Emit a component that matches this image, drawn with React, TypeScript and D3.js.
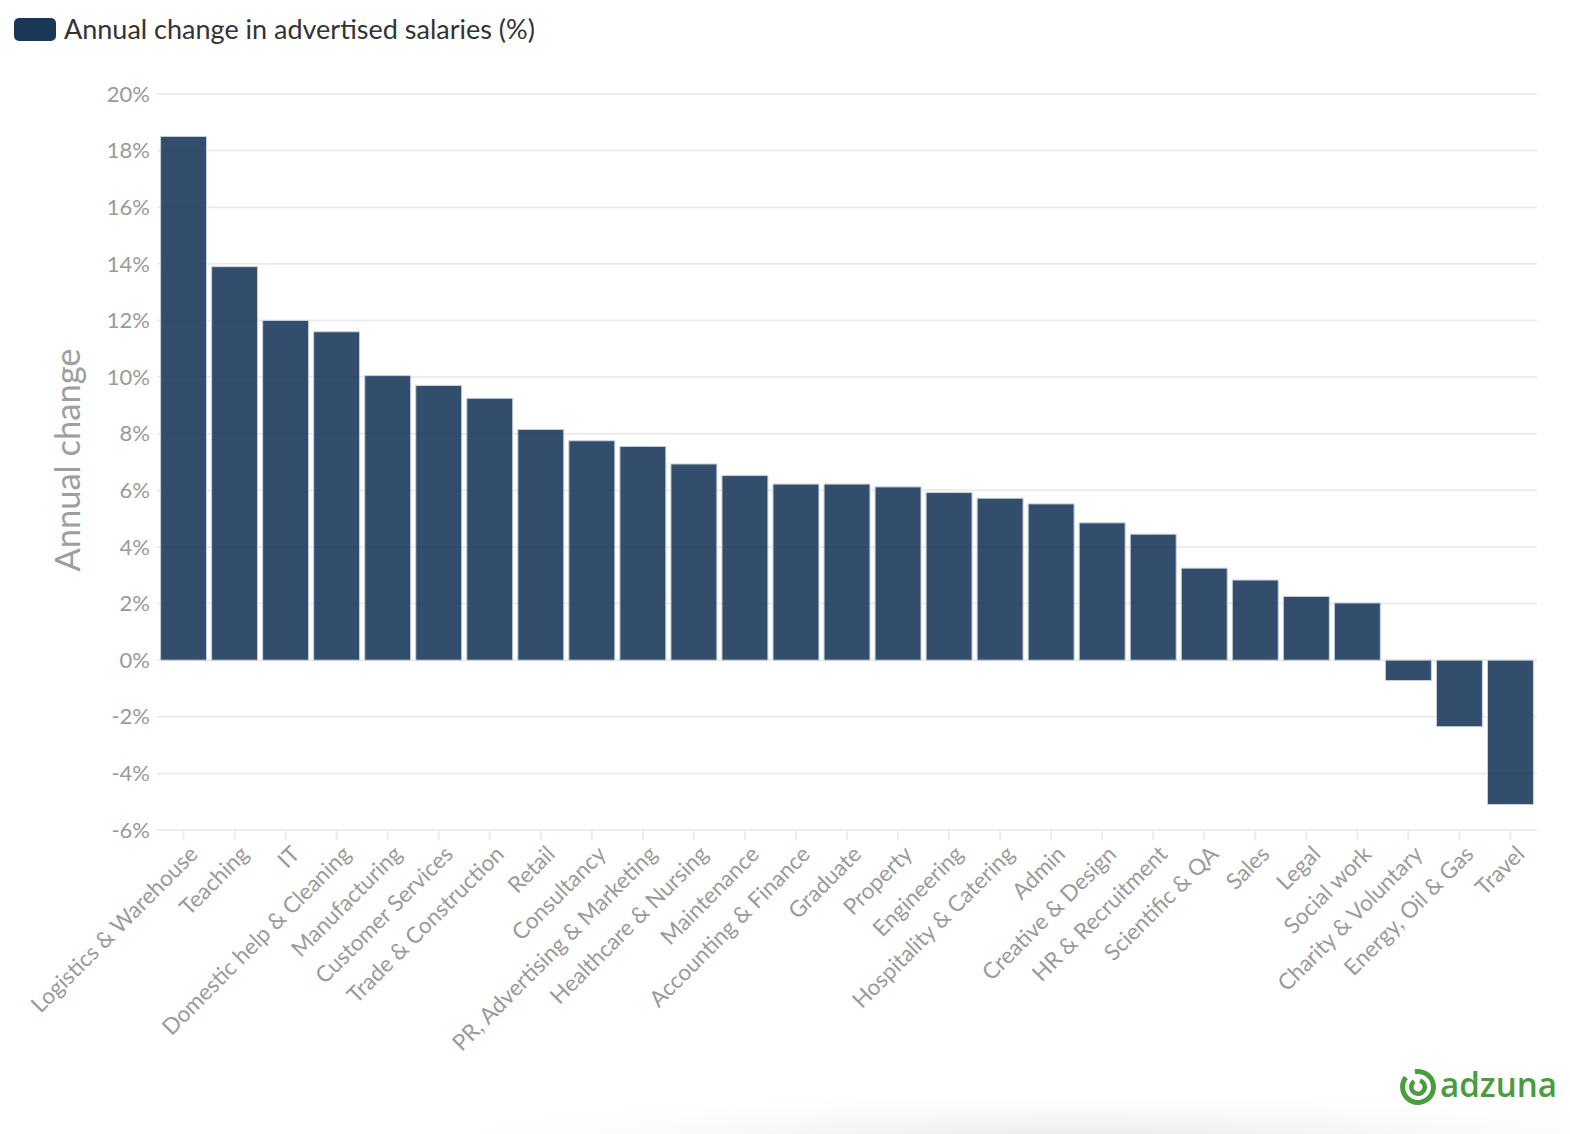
import React, { useEffect, useRef } from 'react';
import * as d3 from 'd3';

// categories, sorted as in the chart
const categories = [
  'Logistics & Warehouse', 'Teaching', 'IT', 'Domestic help & Cleaning', 'Manufacturing',
  'Customer Services', 'Trade & Construction', 'Retail', 'Consultancy', 'PR, Advertising & Marketing',
  'Healthcare & Nursing', 'Maintenance', 'Accounting & Finance', 'Graduate', 'Property',
  'Engineering', 'Hospitality & Catering', 'Admin', 'Creative & Design', 'HR & Recruitment',
  'Scientific & QA', 'Sales', 'Legal', 'Social work', 'Charity & Voluntary',
  'Energy, Oil & Gas', 'Travel',
];

const annualChange = [
  18.5, 13.9, 12.0, 11.6, 10.05,
  9.7, 9.25, 8.15, 7.75, 7.55,
  6.93, 6.52, 6.22, 6.22, 6.12,
  5.92, 5.72, 5.52, 4.85, 4.45,
  3.25, 2.83, 2.25, 2.02, -0.72,
  -2.35, -5.1,
];

const yTicks = [-6, -4, -2, 0, 2, 4, 6, 8, 10, 12, 14, 16, 18, 20];

const legendLabel = 'Annual change in advertised salaries (%)';
const yTitle = 'Annual change';

const W = 1570;
const H = 1134;
const FONT = 'Lato, "Open Sans", sans-serif';

const App: React.FC = () => {
  const svgRef = useRef<SVGSVGElement | null>(null);

  useEffect(() => {
    if (!svgRef.current) return;
    const svg = d3.select(svgRef.current);
    svg.selectAll('*').remove();

    const left = 157;
    const right = 1537;
    const top = 94;
    const bottom = 830;

    const x = d3.scaleBand<string>()
      .domain(categories)
      .range([left, right])
      .paddingInner(0.1)
      .paddingOuter(0.07);

    const y = d3.scaleLinear().domain([-6, 20]).range([bottom, top]);

    // soft shadow at the bottom of the screenshot
    const defs = svg.append('defs');
    const grad = defs.append('radialGradient')
      .attr('id', 'shade')
      .attr('cx', '0.5').attr('cy', '1').attr('r', '0.6');
    grad.append('stop').attr('offset', '0%').attr('stop-color', '#e6e6e6');
    grad.append('stop').attr('offset', '100%').attr('stop-color', '#ffffff').attr('stop-opacity', 0);
    svg.append('rect')
      .attr('x', 480).attr('y', 1050).attr('width', 1200).attr('height', 90)
      .attr('fill', 'url(#shade)');

    // gridlines
    svg.append('g')
      .selectAll('line')
      .data(yTicks)
      .join('line')
      .attr('x1', left)
      .attr('x2', right)
      .attr('y1', d => y(d))
      .attr('y2', d => y(d))
      .attr('stroke', '#ececec')
      .attr('stroke-width', 2);

    // y tick labels
    svg.append('g')
      .selectAll('text')
      .data(yTicks)
      .join('text')
      .attr('x', 150)
      .attr('y', d => y(d))
      .attr('dy', '0.35em')
      .attr('text-anchor', 'end')
      .attr('fill', '#9a9a9a')
      .attr('font-family', FONT)
      .attr('font-size', 22)
      .text(d => `${d}%`);

    // y title
    svg.append('text')
      .attr('transform', `translate(80, ${(y(10) + y(4)) / 2 - 2}) rotate(-90)`)
      .attr('text-anchor', 'middle')
      .attr('fill', '#9e9e9e')
      .attr('font-family', FONT)
      .attr('font-size', 34.5)
      .text(yTitle);

    // x ticks
    svg.append('g')
      .selectAll('line')
      .data(categories)
      .join('line')
      .attr('x1', d => x(d)! + x.bandwidth() / 2)
      .attr('x2', d => x(d)! + x.bandwidth() / 2)
      .attr('y1', bottom)
      .attr('y2', bottom + 10)
      .attr('stroke', '#ececec')
      .attr('stroke-width', 2);

    // x labels
    svg.append('g')
      .selectAll('text')
      .data(categories)
      .join('text')
      .attr('transform', d => `translate(${x(d)! + x.bandwidth() / 2 + 10}, ${bottom + 20}) rotate(-45)`)
      .attr('text-anchor', 'end')
      .attr('dy', '0.35em')
      .attr('fill', '#9a9a9a')
      .attr('font-family', FONT)
      .attr('font-size', 22.5)
      .text(d => d);

    // bars
    svg.append('g')
      .selectAll('rect')
      .data(annualChange)
      .join('rect')
      .attr('x', (_, i) => x(categories[i])!)
      .attr('width', x.bandwidth())
      .attr('y', d => y(Math.max(0, d)))
      .attr('height', d => Math.abs(y(d) - y(0)))
      .attr('fill', '#1d3a5c')
      .attr('fill-opacity', 0.9)
      .attr('stroke', '#c8d0da')
      .attr('stroke-width', 1);

    // legend
    svg.append('rect')
      .attr('x', 14).attr('y', 18).attr('width', 42).attr('height', 23).attr('rx', 5)
      .attr('fill', '#1b3858');
    svg.append('text')
      .attr('x', 64).attr('y', 38.5)
      .attr('fill', '#333')
      .attr('font-family', FONT)
      .attr('font-size', 27)
      .text(legendLabel);

    // adzuna logo
    const logo = svg.append('g').attr('transform', 'translate(1418, 1087)');
    const green = '#4a9d3c';
    logo.append('path')
      .attr('d', d3.arc()({ innerRadius: 13, outerRadius: 18, startAngle: -0.2, endAngle: 2 * Math.PI - 0.9 }) as string)
      .attr('fill', green);
    logo.append('path')
      .attr('d', d3.arc()({ innerRadius: 4.5, outerRadius: 9, startAngle: 0.3, endAngle: 2 * Math.PI - 0.6 }) as string)
      .attr('fill', green);
    svg.append('text')
      .attr('x', 1440).attr('y', 1097)
      .attr('fill', green)
      .attr('font-family', '"Open Sans", sans-serif')
      .attr('font-weight', 600)
      .attr('font-size', 34)
      .attr('textLength', 117)
      .attr('lengthAdjust', 'spacingAndGlyphs')
      .text('adzuna');
  }, []);

  return (
    <svg
      ref={svgRef}
      width={W}
      height={H}
      style={{ position: 'absolute', left: 0, top: 0, background: '#fff' }}
    />
  );
};

export default App;
